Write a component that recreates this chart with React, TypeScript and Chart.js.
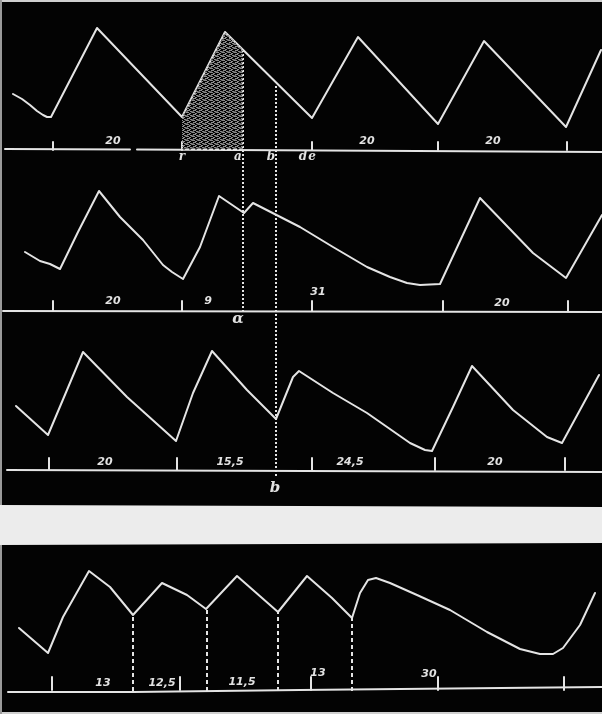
import { useEffect, useRef } from "react";
import { Chart, registerables } from "chart.js";
Chart.register(...registerables);

// ---- Data: time (t) and height of the trace above each record's baseline (v) ----
const trace1T = [13, 22, 30, 37, 43, 47, 51, 97, 182, 225, 312, 358, 438, 484, 566, 601];
const trace1V = [56, 51, 45, 39, 35, 33, 33, 122, 33, 118, 32, 113, 26, 109, 23, 100];

const trace2T = [25, 40, 50, 60, 78, 99, 120, 143, 163, 172, 183, 200, 219, 244, 253, 300, 333, 367, 390, 407, 420, 440, 480, 533, 566, 602];
const trace2V = [59, 50, 47, 42, 79, 120, 94, 71, 46, 39, 32, 64, 115, 98, 108, 84, 64, 44, 34, 28, 26, 27, 113, 58, 33, 96];

const trace3T = [16, 48, 67, 83, 127, 176, 193, 212, 247, 276, 293, 299, 333, 367, 410, 425, 432, 453, 472, 513, 547, 562, 599];
const trace3V = [64, 35, 80, 118, 73, 29, 77, 119, 80, 51, 93, 99, 77, 57, 27, 20, 19, 63, 104, 60, 33, 27, 95];

const trace4T = [19, 48, 63, 89, 110, 133, 162, 187, 206, 237, 278, 307, 332, 352, 360, 368, 376, 390, 417, 450, 487, 520, 540, 553, 563, 580, 595];
const trace4V = [63, 38, 74, 120, 104, 76, 108, 96, 82, 115, 79, 115, 93, 73, 98, 111, 113, 108, 96, 81, 59, 42, 37, 37, 43, 66, 98];

// shaded systole in record 1
const shadeT = [182, 225, 243];
const shadeV = [33, 118, 100];

// baseline time marks
const ticks1 = [53, 182, 312, 438, 567];
const ticks2 = [53, 182, 312, 443, 568];
const ticks3 = [49, 177, 312, 435, 565];
const ticks4 = [52, 180, 311, 438, 564];

// interval labels
const labels1 = ["20", "20", "20"];
const labels1T = [113, 367, 493];
const labels2 = ["20", "9", "31", "20"];
const labels2T = [113, 208, 318, 502];
const labels2V = [10, 10, 19, 8];
const labels3 = ["20", "15,5", "24,5", "20"];
const labels3T = [105, 230, 350, 495];
const labels4 = ["13", "12,5", "11,5", "13", "30"];
const labels4T = [103, 162, 242, 318, 429];
const labels4V = [8, 8, 9, 18, 17];

// letters
const letters1 = ["r", "a", "b", "d", "e"];
const letters1T = [182, 238, 271, 303, 312];
const letterAlphaT = 238;
const letterB3T = 275;

// dotted marker lines
const dotAT = 243;
const dotAV = [100, -162];
const dotBT = 276;
const dotBV = [64, -328];
const dash4T = [133, 207, 278, 352];
const dash4V = [76, 82, 79, 73];

const W = 602;
const H = 714;
const BASE = [150, 311, 470, 691];

const zip = (t: number[], v: number[]) => t.map((x, i) => ({ x, y: v[i] }));
const segs = (t: number[], top: number[] | number, bottom = 0) => {
  const out: any[] = [];
  t.forEach((x, i) => {
    const tp = Array.isArray(top) ? top[i] : top;
    out.push({ x, y: bottom }, { x, y: tp }, { x, y: null });
  });
  return out;
};

const bgPlugin = {
  id: "paper",
  beforeDraw(chart: any) {
    const ctx = chart.ctx;
    ctx.save();
    ctx.fillStyle = "#030303";
    ctx.fillRect(0, 0, W, H);
    ctx.fillStyle = "#ececec";
    ctx.beginPath();
    ctx.moveTo(0, 505);
    ctx.lineTo(W, 507);
    ctx.lineTo(W, 543);
    ctx.lineTo(0, 545);
    ctx.closePath();
    ctx.fill();
    ctx.fillStyle = "#cfcfcf";
    ctx.fillRect(0, 0, W, 2);
    ctx.fillRect(0, H - 2, W, 2);
    ctx.fillStyle = "#9a9a9a";
    ctx.fillRect(0, 0, 2, 505);
    ctx.fillRect(0, 545, 2, H - 545);
    ctx.restore();
  },
};

type LabelGroup = { axis: string; t: number[]; v: number[]; text: string[]; font: string };
const labelGroups: LabelGroup[] = [
  { axis: "y1", t: labels1T, v: labels1T.map(() => 9), text: labels1, font: "italic bold 11px 'DejaVu Sans'" },
  { axis: "y2", t: labels2T, v: labels2V, text: labels2, font: "italic bold 11px 'DejaVu Sans'" },
  { axis: "y3", t: labels3T, v: labels3T.map(() => 8), text: labels3, font: "italic bold 11px 'DejaVu Sans'" },
  { axis: "y4", t: labels4T, v: labels4V, text: labels4, font: "italic bold 11px 'DejaVu Sans'" },
  { axis: "y1", t: letters1T, v: letters1T.map(() => -7), text: letters1, font: "italic bold 12px 'DejaVu Serif'" },
  { axis: "y2", t: [letterAlphaT], v: [-8], text: ["α"], font: "italic bold 15px 'DejaVu Serif'" },
  { axis: "y3", t: [letterB3T], v: [-18], text: ["b"], font: "italic bold 15px 'DejaVu Serif'" },
];

const textPlugin = {
  id: "annot",
  afterDatasetsDraw(chart: any) {
    const ctx = chart.ctx;
    const xs = chart.scales.x;
    ctx.save();
    ctx.fillStyle = "#e2e2e2";
    ctx.textAlign = "center";
    ctx.textBaseline = "middle";
    for (const g of labelGroups) {
      const ys = chart.scales[g.axis];
      ctx.font = g.font;
      g.t.forEach((t, i) => ctx.fillText(g.text[i], xs.getPixelForValue(t), ys.getPixelForValue(g.v[i])));
    }
    ctx.restore();
  },
};

export default function App() {
  const ref = useRef<HTMLCanvasElement>(null);
  useEffect(() => {
    document.body.style.margin = "0";
    const pc = document.createElement("canvas");
    pc.width = 6;
    pc.height = 4;
    const pctx = pc.getContext("2d")!;
    pctx.fillStyle = "#8c8c8c";
    pctx.fillRect(0, 0, 3, 1);
    pctx.fillRect(3, 1, 2, 1);
    pctx.fillRect(1, 2, 3, 1);
    pctx.fillRect(4, 3, 2, 1);
    pctx.fillStyle = "#5a5a5a";
    pctx.fillRect(5, 0, 1, 1);
    pctx.fillRect(0, 3, 2, 1);
    const pattern = ref.current!.getContext("2d")!.createPattern(pc, "repeat");

    const line = "#e4e4e4";
    const base = (yAxisID: string, data: any[], extra: any = {}) => ({
      data,
      yAxisID,
      showLine: true,
      borderColor: line,
      borderWidth: 2,
      pointRadius: 0,
      tension: 0,
      fill: false,
      clip: false,
      spanGaps: false,
      borderJoinStyle: "round",
      borderCapStyle: "round",
      ...extra,
    });

    const datasets: any[] = [
      base("y1", zip(shadeT, shadeV), { borderWidth: 0, borderColor: "rgba(0,0,0,0)", backgroundColor: pattern, fill: { value: 0 } }),
      base("y1", zip(trace1T, trace1V)),
      base("y2", zip(trace2T, trace2V)),
      base("y3", zip(trace3T, trace3V)),
      base("y4", zip(trace4T, trace4V)),
      // baselines
      base("y1", [{ x: 5, y: 1 }, { x: 130, y: 0.5 }, { x: 130, y: null }, { x: 137, y: 0.5 }, { x: 602, y: -2 }]),
      base("y2", [{ x: 3, y: 0 }, { x: 602, y: -1 }]),
      base("y3", [{ x: 7, y: 0 }, { x: 602, y: -2 }]),
      base("y4", [{ x: 8, y: -1 }, { x: 133, y: -1 }, { x: 300, y: 1 }, { x: 602, y: 4 }]),
      // time marks
      base("y1", segs(ticks1, 8)),
      base("y2", segs(ticks2, 10)),
      base("y3", segs(ticks3, 12)),
      base("y4", segs(ticks4, 14, 1)),
      // dotted lines
      base("y1", [{ x: dotAT, y: dotAV[0] }, { x: dotAT, y: dotAV[1] }], { borderDash: [2, 2], borderCapStyle: "butt" }),
      base("y1", [{ x: dotBT, y: dotBV[0] }, { x: dotBT, y: dotBV[1] }], { borderDash: [2, 2], borderCapStyle: "butt" }),
      base("y4", segs(dash4T, dash4V), { borderDash: [4, 3], borderCapStyle: "butt" }),
    ];

    const yScale = (b: number) => ({ type: "linear", display: false, min: b - H, max: b });
    const chart = new Chart(ref.current!, {
      type: "scatter",
      data: { datasets },
      options: {
        animation: false,
        responsive: false,
        devicePixelRatio: 1,
        layout: { padding: 0 },
        plugins: { legend: { display: false }, tooltip: { enabled: false } },
        events: [],
        scales: {
          x: { type: "linear", display: false, min: 0, max: W },
          y1: yScale(BASE[0]),
          y2: yScale(BASE[1]),
          y3: yScale(BASE[2]),
          y4: yScale(BASE[3]),
        } as any,
      },
      plugins: [bgPlugin, textPlugin],
    } as any);
    return () => chart.destroy();
  }, []);
  return (
    <canvas
      ref={ref}
      width={W}
      height={H}
      style={{ position: "fixed", left: 0, top: 0, width: W, height: H, display: "block" }}
    />
  );
}
